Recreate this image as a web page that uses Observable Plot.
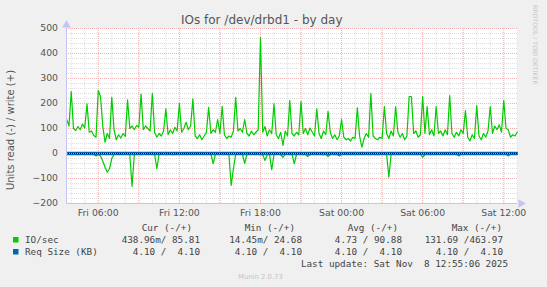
<!DOCTYPE html>
<html><head><meta charset="utf-8">
<script src="https://cdn.jsdelivr.net/npm/d3@7"></script>
<script src="https://cdn.jsdelivr.net/npm/@observablehq/plot@0.6"></script>
<style>
body{margin:0;background:#f0f0f0;}
#wrap{position:relative;width:547px;height:287px;background:#f0f0f0;overflow:hidden;}
#wrap svg{position:absolute;left:0;top:0;}
</style></head><body><div id="wrap"></div>
<script>
// ---- text ----
const title = "IOs for /dev/drbd1 - by day";
const yLabel = "Units read (-) / write (+)";
const legendHeaders = ["Cur (-/+)", "Min (-/+)", "Avg (-/+)", "Max (-/+)"];
const legendNames = ["IO/sec", "Req Size (KB)"];
const legendIO = ["438.96m/ 85.81", "14.45m/ 24.68", "4.73 / 90.88", "131.69 /463.97"];
const legendReq = ["4.10 /  4.10", "4.10 /  4.10", "4.10 /  4.10", "4.10 /  4.10"];
const lastUpdate = "Last update: Sat Nov  8 12:55:06 2025";
const footer = "Munin 2.0.73";
const watermark = "RRDTOOL / TOBI OETIKER";

// ---- axes ----
const yTicks = [-200, -100, 0, 100, 200, 300, 400, 500];
const xDomain = ["2025-11-07T03:39:00Z", "2025-11-08T13:01:00Z"];

// ---- series (10-minute samples starting Fri 03:40) ----
const seriesStart = "2025-11-07T03:40:00Z";
const stepMinutes = 10;
const writeIO = [
136,110,248,100,92,108,95,118,102,199,
85,90,72,65,252,228,110,45,80,60,
225,95,55,75,62,80,68,215,100,110,
95,112,105,238,95,110,100,90,241,85,
65,80,70,90,179,75,95,80,105,90,
200,85,100,125,95,110,219,70,60,75,
55,70,85,185,80,95,85,136,80,189,
75,60,70,65,90,225,90,100,85,136,
80,70,90,75,85,95,463.97,85,108,70,
95,80,199,75,60,85,32,90,70,212,
80,70,85,75,208,80,100,75,102,85,
70,179,80,60,90,75,169,85,60,75,
55,70,136,65,55,60,50,65,60,183,
70,25,60,80,65,241,70,60,55,65,
60,188,80,60,90,70,188,85,65,80,
55,70,228,228,80,90,65,75,228,80,
188,75,95,70,188,80,90,70,95,75,
232,80,65,85,70,95,80,172,65,50,
75,60,192,70,55,80,65,90,188,80,
110,95,115,85,212,100,95,65,75,70,
85.81];
// read IOs (magnitudes, drawn below zero)
const readIO = [
3,2,4,3,2,5,3,2,4,3,
2,3,4,10,3,10,30,55,75,60,
20,4,3,2,3,4,2,3,5,132,
4,3,2,3,4,3,2,3,4,2,
61,3,2,4,3,2,3,5,3,2,
3,4,2,3,3,2,4,3,2,3,
2,3,4,3,2,41,3,2,4,3,
2,3,5,128,60,4,3,2,3,40,
3,2,4,3,2,3,5,4,28,6,
3,65,4,3,2,5,15,3,4,2,
3,41,4,3,2,5,3,12,4,3,
2,3,4,3,5,3,12,4,3,2,
3,10,4,3,2,3,4,2,3,3,
2,4,3,2,3,4,2,3,5,3,
2,3,4,95,3,2,4,3,2,3,
4,3,2,3,4,3,2,3,15,4,
3,2,3,4,2,3,4,3,2,3,
4,3,2,3,10,3,4,2,3,4,
3,2,3,4,3,2,3,4,3,2,
3,4,2,3,4,3,10,3,2,3,
0.44];
const reqSizeWrite = 4.10;
const reqSizeRead = 4.10;

// ---- colours ----
const green = "#00cc00", blue = "#0066b3";

const t0 = new Date(seriesStart);
const data = writeIO.map((w, i) => ({
  t: new Date(+t0 + i * stepMinutes * 60000),
  w, r: -readIO[i], qw: reqSizeWrite, qr: -reqSizeRead
}));
const d0 = new Date(xDomain[0]), d1 = new Date(xDomain[1]);
const minorX = d3.utcHour.range(d0, d1);
const majorX = d3.utcHour.every(3).range(d0, d1);
const labelX = d3.utcHour.every(6).range(d0, d1);
const minorY = d3.range(yTicks[0], yTicks[yTicks.length - 1] + 1, 20);
const axisCol = "#c4c4f4";
const yTop = 514, xEnd = new Date(+d1 + 15 * 60000);

const chart = Plot.plot({
  width: 547, height: 287,
  marginLeft: 66, marginRight: 30, marginTop: 28, marginBottom: 84,
  style: {background: "transparent", fontFamily: "DejaVu Sans, sans-serif", fontSize: "9.3px", color: "#555"},
  x: {type: "utc", domain: [d0, d1]},
  y: {domain: [-200, 500]},
  marks: [
    Plot.frame({fill: "#ffffff", stroke: "none"}),
    Plot.ruleX(minorX, {stroke: "#dedede", strokeDasharray: "1,1"}),
    Plot.ruleY(minorY, {stroke: "#dedede", strokeDasharray: "1,1"}),
    Plot.ruleX(majorX, {stroke: "#f2b2b2", strokeDasharray: "1,1"}),
    Plot.ruleY(yTicks, {stroke: "#f2b2b2", strokeDasharray: "1,1"}),
    Plot.lineY(data, {x: "t", y: "w", stroke: green, strokeWidth: 1.2}),
    Plot.lineY(data, {x: "t", y: "r", stroke: green, strokeWidth: 1.2}),
    Plot.lineY(data, {x: "t", y: "qw", stroke: blue, strokeWidth: 1.6}),
    Plot.lineY(data, {x: "t", y: "qr", stroke: blue, strokeWidth: 1.6}),
    Plot.ruleY([0], {stroke: "#000", strokeDasharray: "1,1", x1: d0, x2: d1}),
    Plot.ruleX([d0], {y1: -200, y2: yTop - 12, stroke: axisCol}),
    Plot.ruleY([-200], {x1: d0, x2: new Date(+xEnd - 20 * 60000), stroke: axisCol}),
    Plot.dot([{x: d0, y: yTop}], {x: "x", y: "y", symbol: "triangle", r: 3.2, fill: axisCol, stroke: "none"}),
    Plot.dot([{x: xEnd, y: -200}], {x: "x", y: "y", symbol: "triangle", r: 3.2, fill: axisCol, stroke: "none", rotate: 90}),
    Plot.axisY({ticks: yTicks, tickSize: 0, tickPadding: 8.5, label: null}),
    Plot.axisX({ticks: labelX, tickSize: 0, tickPadding: 5.5, label: null, tickFormat: d3.utcFormat("%a %H:%M")})
  ]
});
const wrap = document.getElementById("wrap");
wrap.appendChild(chart);

// ---- overlay texts & legend ----
const svg = d3.select(wrap).append("svg").attr("width", 547).attr("height", 287);
svg.append("text").attr("x", 181).attr("y", 24).attr("font-family", "DejaVu Sans").attr("font-size", 12)
  .attr("fill", "#555").text(title);
svg.append("text").attr("transform", "translate(14,130) rotate(-90)").attr("text-anchor", "middle")
  .attr("font-family", "DejaVu Sans").attr("font-size", 10).attr("fill", "#555").text(yLabel);
svg.append("text").attr("transform", "translate(533,5) rotate(90)").attr("font-family", "DejaVu Sans")
  .attr("font-size", 6.2).attr("fill", "#c8c8c8").text(watermark);

const mono = "DejaVu Sans Mono, monospace";
const headerRight = [192, 295, 398, 502];
const valueRight = [200, 302, 402, 503];
legendHeaders.forEach((h, i) => svg.append("text").attr("x", headerRight[i]).attr("y", 230.7)
  .attr("text-anchor", "end").attr("font-family", mono).attr("font-size", 9.3).attr("fill", "#444")
  .style("white-space", "pre").text(h));
const rows = [{name: legendNames[0], vals: legendIO, col: green, y: 243},
              {name: legendNames[1], vals: legendReq, col: blue, y: 255}];
rows.forEach(r => {
  svg.append("rect").attr("x", 13).attr("y", r.y - 6).attr("width", 5.5).attr("height", 5.5).attr("fill", r.col);
  svg.append("text").attr("x", 25).attr("y", r.y).attr("font-family", mono).attr("font-size", 9.3)
    .attr("fill", "#444").text(r.name);
  r.vals.forEach((v, i) => svg.append("text").attr("x", valueRight[i]).attr("y", r.y).attr("text-anchor", "end")
    .attr("font-family", mono).attr("font-size", 9.3).attr("fill", "#444").style("white-space", "pre").text(v));
});
svg.append("text").attr("x", 508).attr("y", 266.7).attr("text-anchor", "end").attr("font-family", mono)
  .attr("font-size", 9.3).attr("fill", "#444").style("white-space", "pre").text(lastUpdate);
svg.append("text").attr("x", 260.5).attr("y", 279).attr("text-anchor", "middle").attr("font-family", "DejaVu Sans")
  .attr("font-size", 6.8).attr("fill", "#c4c4c4").text(footer);
</script></body></html>
